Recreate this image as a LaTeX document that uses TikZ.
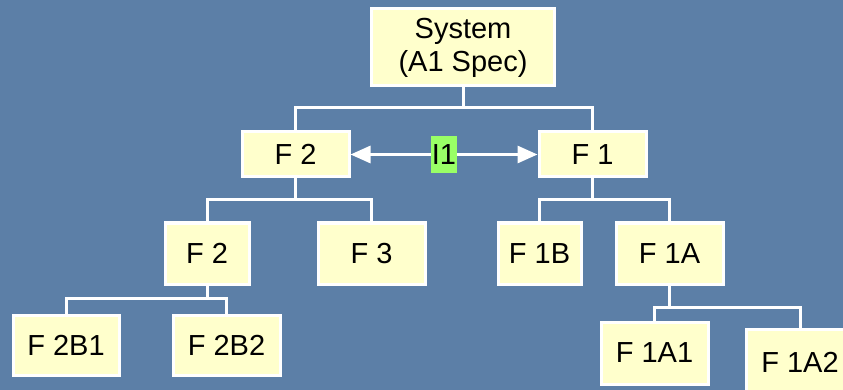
\documentclass[tikz,border=0pt]{standalone}
\usepackage{fontspec}
\setmainfont{Liberation Sans}
\usetikzlibrary{arrows.meta}
\definecolor{bgblue}{RGB}{92,127,167}
\definecolor{boxyellow}{RGB}{255,255,204}
\definecolor{labgreen}{RGB}{153,255,102}
\begin{document}
\begin{tikzpicture}[x=1pt,y=-1pt,
  fbox/.style={draw=white, line width=3pt, fill=boxyellow, inner sep=0pt,
    font=\fontsize{29}{33}\selectfont, align=center},
  link/.style={draw=white, line width=3pt},
  iarrow/.style={draw=white, line width=3pt, -{Triangle[length=20pt,width=17pt]}},
  ilabel/.style={fill=labgreen, inner sep=0pt, minimum width=26pt, minimum height=37pt,
    font=\fontsize{29}{33}\selectfont}]
\fill[bgblue] (0,0) rectangle (843,390);
\useasboundingbox (0,0) rectangle (843,390);
\begin{scope}
\clip (0,0) rectangle (843,390);
\node[fbox, minimum width=183pt, minimum height=77pt] (sys) at (463,47.5) {System\\(A1 Spec)};
\node[fbox, minimum width=107pt, minimum height=45pt] (f2) at (295.5,154.5) {F 2};
\node[fbox, minimum width=107pt, minimum height=45pt] (f1) at (592.5,154.5) {F 1};
\node[fbox, minimum width=84pt, minimum height=61pt] (f2l) at (207,253.5) {F 2};
\node[fbox, minimum width=107pt, minimum height=61pt] (f3) at (371.5,253.5) {F 3};
\node[fbox, minimum width=83pt, minimum height=61pt] (f1b) at (539.5,253.5) {F 1B};
\node[fbox, minimum width=107pt, minimum height=61pt] (f1a) at (669.5,253.5) {F 1A};
\node[fbox, minimum width=106pt, minimum height=60pt] (f2b1) at (66,345) {F 2B1};
\node[fbox, minimum width=107pt, minimum height=60pt] (f2b2) at (226.5,345) {F 2B2};
\node[fbox, minimum width=107pt, minimum height=62pt] (f1a1) at (654.5,353) {F 1A1};
\node[fbox, minimum width=108pt, minimum height=66pt] (f1a2) at (800,362) {F 1A2};
\node[ilabel] (i1) at (444,154.5) {I1};

\coordinate (j1) at (463,108);
\coordinate (j2) at (295.5,200);
\coordinate (j3) at (592.5,200);
\coordinate (j4) at (207,298);
\coordinate (j5) at (669.5,307);

\draw[link] (sys.south) -- (j1);
\draw[link] (f2.north) |- (j1) -| (f1.north);
\draw[link] (f2.south) -- (j2);
\draw[link] (f2l.north) |- (j2) -| (f3.north);
\draw[link] (f1.south) -- (j3);
\draw[link] (f1b.north) |- (j3) -| (f1a.north);
\draw[link] (f2l.south) -- (j4);
\draw[link] (f2b1.north) |- (j4) -| (f2b2.north);
\draw[link] (f1a.south) -- (j5);
\draw[link] (f1a1.north) |- (j5) -| (f1a2.north);

\draw[iarrow] (i1.west) -- (f2.east);
\draw[iarrow] (i1.east) -- (f1.west);
\end{scope}
\end{tikzpicture}
\end{document}
